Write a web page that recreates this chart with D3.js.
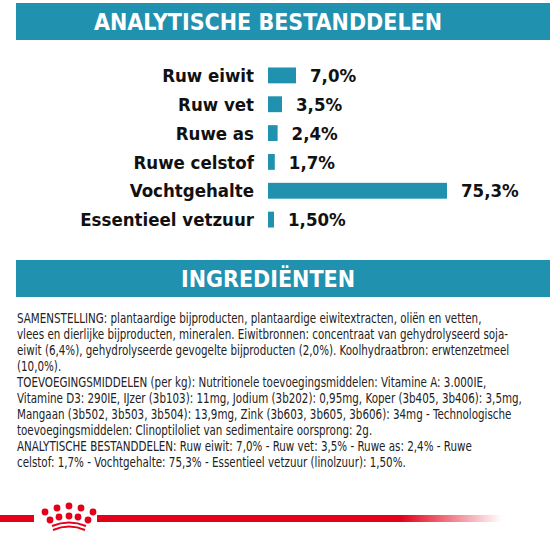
<!DOCTYPE html><html><head><meta charset="utf-8">
<script src="https://cdn.jsdelivr.net/npm/d3@7"></script>
<style>body{margin:0;background:#fff}</style></head><body>
<script>
const categories=["Ruw eiwit","Ruw vet","Ruwe as","Ruwe celstof","Vochtgehalte","Essentieel vetzuur"];
const values=[7.0,3.5,2.4,1.7,75.3,1.5];
const valueLabels=["7,0%","3,5%","2,4%","1,7%","75,3%","1,50%"];
const title1="ANALYTISCHE BESTANDDELEN", title2="INGREDIËNTEN";
const textLines=[
"SAMENSTELLING: plantaardige bijproducten, plantaardige eiwitextracten, oliën en vetten,",
"vlees en dierlijke bijproducten, mineralen. Eiwitbronnen: concentraat van gehydrolyseerd soja-",
"eiwit (6,4%), gehydrolyseerde gevogelte bijproducten (2,0%). Koolhydraatbron: erwtenzetmeel",
"(10,0%).",
"TOEVOEGINGSMIDDELEN (per kg): Nutritionele toevoegingsmiddelen: Vitamine A: 3.000IE,",
"Vitamine D3: 290IE, IJzer (3b103): 11mg, Jodium (3b202): 0,95mg, Koper (3b405, 3b406): 3,5mg,",
"Mangaan (3b502, 3b503, 3b504): 13,9mg, Zink (3b603, 3b605, 3b606): 34mg - Technologische",
"toevoegingsmiddelen: Clinoptiloliet van sedimentaire oorsprong: 2g.",
"ANALYTISCHE BESTANDDELEN: Ruw eiwit: 7,0% - Ruw vet: 3,5% - Ruwe as: 2,4% - Ruwe",
"celstof: 1,7% - Vochtgehalte: 75,3% - Essentieel vetzuur (linolzuur): 1,50%."];
const blue="#2191b0", F="'DejaVu Sans Condensed','DejaVu Sans',sans-serif";
const svg=d3.select("body").append("svg").attr("width",550).attr("height",536);
svg.append("rect").attr("x",16).attr("y",3).attr("width",534).attr("height",37).attr("fill",blue);
svg.append("text").attr("x",268).attr("y",30).attr("text-anchor","middle").attr("fill","#fff")
 .attr("font-family",F).attr("font-weight","bold").attr("font-size",23).text(title1);
const x=d3.scaleLinear().domain([0,1.5,7,75.3]).range([0,6,28,179]);
const y=d3.scaleBand().domain(categories).range([54.5,240.5]).padding(0.45);
const x0=268;
const g=svg.append("g");
categories.forEach((c,i)=>{
 const yc=y(c)+y.bandwidth()/2;
 g.append("rect").attr("x",x0).attr("y",y(c)).attr("width",x(values[i])).attr("height",y.bandwidth()).attr("fill",blue);
 g.append("text").attr("x",254).attr("y",yc).attr("dy","0.36em").attr("text-anchor","end")
  .attr("font-family",F).attr("font-weight","bold").attr("font-size",18.5).attr("fill","#111").text(c);
 g.append("text").attr("x",x0+x(values[i])+14).attr("y",yc).attr("dy","0.36em")
  .attr("font-family",F).attr("font-weight","bold").attr("font-size",18.5).attr("fill","#111").text(valueLabels[i]);
});
svg.append("rect").attr("x",16).attr("y",260).attr("width",534).attr("height",37).attr("fill",blue);
svg.append("text").attr("x",268).attr("y",287).attr("text-anchor","middle").attr("fill","#fff")
 .attr("font-family",F).attr("font-weight","bold").attr("font-size",23).text(title2);
const tg=svg.append("g");
const tl=textLines.map((t,i)=>tg.append("text").attr("x",0).attr("y",323+i*16)
 .attr("font-family",F).attr("font-size",14).attr("fill","#222").text(t));
const k=465/tl[0].node().getComputedTextLength();
tg.attr("transform",`translate(17,0) scale(${k},1)`);
const grad=svg.append("defs").append("linearGradient").attr("id","fade");
grad.append("stop").attr("offset","0.75").attr("stop-color","#e2001a");
grad.append("stop").attr("offset","1").attr("stop-color","#e2001a").attr("stop-opacity",0);
svg.append("rect").attr("x",0).attr("y",515).attr("width",34).attr("height",7).attr("fill","#e2001a");
svg.append("rect").attr("x",97).attr("y",515).attr("width",405).attr("height",7).attr("fill","url(#fade)");
const cr=svg.append("g").attr("fill","#e2001a");
[[45,512],[57,508],[69,506],[81,508],[93,512],[50,520],[59,517],[69,516],[78,517],[88,520]].forEach(p=>cr.append("circle").attr("cx",p[0]).attr("cy",p[1]).attr("r",3.4));
cr.append("path").attr("d","M52 526 Q69 519 86 526").attr("fill","none").attr("stroke","#e2001a").attr("stroke-width",2);
cr.append("path").attr("d","M53 530 Q69 523 85 530").attr("fill","none").attr("stroke","#e2001a").attr("stroke-width",2);
</script></body></html>
